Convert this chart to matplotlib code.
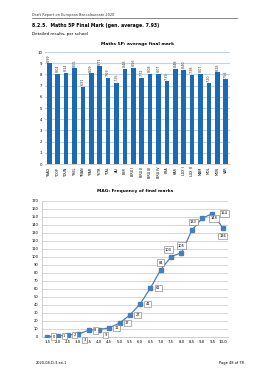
import matplotlib
matplotlib.use("Agg")
import matplotlib.pyplot as plt
import numpy as np

schools = ['*BAD', '*COP', '*DUN', '*HEL', '*MAN', '*PAR', '*STR', '*TAL',
           'ALI', 'BER', 'BRU I', 'BRU II', 'BRU III', 'BRU IV', 'FRA', 'KAR',
           'LUX I', 'LUX II', 'MAM', 'MOL', 'MUN', 'VAR']
avg_marks = [8.99, 8.04, 8.14, 8.55, 6.91, 8.09, 8.71, 7.69, 7.25, 8.48, 8.56,
             7.72, 8.08, 8.07, 7.39, 8.48, 8.40, 7.98, 8.07, 7.20, 8.18, 7.56]
y1_ticks = list(range(0, 11))

mark_labels = ['1,5', '2,0', '2,5', '3,0', '3,5', '4,0', '4,5', '5,0', '5,5',
               '6,0', '6,5', '7,0', '7,5', '8,0', '8,5', '9,0', '9,5', '10,0']
frequencies = [0, 1, 2, 3, 8, 9, 11, 17, 27, 41, 61, 84, 100, 105, 133, 148, 154, 136]
y2_ticks = list(range(0, 171, 10))

W, H = 268, 380
fig = plt.figure(figsize=(W / 100, H / 100), dpi=100)
fig.patch.set_facecolor('white')

def fx(x):
    return x / W

def fy(y):
    return 1 - y / H

# header
fig.text(fx(32), fy(15), 'Draft Report on European Baccalaureate 2020', fontsize=2.5,
         color='#333333', va='center', ha='left')
fig.add_artist(plt.Line2D([fx(32), fx(237)], [fy(18), fy(18)], color='#555555', lw=0.5))
fig.text(fx(32), fy(25), '8.2.5.  Maths 5P Final Mark (gen. average. 7.93)', fontsize=3.3,
         fontweight='bold', va='center', ha='left')
fig.text(fx(32), fy(33.5), 'Detailed results, per school', fontsize=3.0, va='center', ha='left')

# footer
fig.text(fx(36), fy(363), '2020-08-D-3-en-1', fontsize=2.5, va='center', ha='left')
fig.text(fx(244), fy(363), 'Page 48 of 78', fontsize=2.6, va='center', ha='right')

# ---- Chart 1: bars ----
bar_color = '#1a6bb3'
ax1 = fig.add_axes([fx(45), fy(164), fx(230) - fx(45), fy(52) - fy(164)])
x = np.arange(len(schools))
ax1.bar(x, avg_marks, width=0.55, color=bar_color, zorder=3)
for xi, v in zip(x, avg_marks):
    ax1.text(xi, v + 0.15, f'{v:.2f}', rotation=90, ha='center', va='bottom',
             fontsize=2.4, color='#333333')
ax1.set_xlim(-0.5, len(schools) - 0.5)
ax1.set_ylim(0, 10)
ax1.set_yticks(y1_ticks)
ax1.set_yticklabels([str(t) for t in y1_ticks], fontsize=2.8)
ax1.set_xticks(x)
ax1.set_xticklabels(schools, rotation=90, fontsize=2.4)
ax1.grid(axis='y', color='#c5d3df', lw=0.8, zorder=0)
for s in ['top', 'right', 'left']:
    ax1.spines[s].set_visible(False)
ax1.spines['bottom'].set_color('#bbbbbb')
ax1.spines['bottom'].set_linewidth(0.5)
ax1.tick_params(axis='both', length=0, pad=2)
ax1.set_title('Maths 5P: average final mark', fontsize=3.2, fontweight='bold', pad=5)

# ---- Chart 2: line ----
line_color = '#4a7ebb'
ax2 = fig.add_axes([fx(42), fy(336.7), fx(228) - fx(42), fy(200.7) - fy(336.7)])
x2 = np.arange(len(mark_labels))
ax2.plot(x2, frequencies, color=line_color, lw=0.9, marker='s', markersize=2.3,
         markerfacecolor=line_color, markeredgecolor=line_color, zorder=4)
ax2.set_xlim(-0.5, len(mark_labels) - 0.5)
ax2.set_ylim(0, 170)
ax2.set_yticks(y2_ticks)
ax2.set_yticklabels([str(t) for t in y2_ticks], fontsize=2.6)
ax2.set_xticks(x2)
ax2.set_xticklabels(mark_labels, fontsize=2.8)
ax2.grid(axis='y', color='#d0d0d0', lw=0.6, zorder=0)
for s in ['top', 'right']:
    ax2.spines[s].set_visible(False)
ax2.spines['left'].set_color('#bbbbbb')
ax2.spines['bottom'].set_color('#bbbbbb')
ax2.spines['left'].set_linewidth(0.5)
ax2.spines['bottom'].set_linewidth(0.5)
ax2.tick_params(axis='both', length=0, pad=2.5)
ax2.set_title('MAG: Frequency of final marks', fontsize=3.2, fontweight='bold', pad=6)

# label offsets in points (dx, dy)
offsets = [(4, 0), (4, 0), (4, 0), (4, -4), (4, 0), (4, -4), (4, 0), (4, 0), (4, 0),
           (4, 0), (4, 0), (0, 5), (-2, 5), (0, 5), (1, 6), (6, 0), (6, 0), (0, -6)]
for xi, v, (dx, dy) in zip(x2, frequencies, offsets):
    ax2.annotate(str(v), (xi, v), xytext=(dx, dy), textcoords='offset points',
                 ha='center' if abs(dx) < 3 else ('left' if dx > 0 else 'right'),
                 va='center', fontsize=2.6,
                 bbox=dict(boxstyle='square,pad=0.35', fc='white', ec='#777777', lw=0.4),
                 zorder=5)

fig.savefig('out.png', dpi=100, facecolor='white')
